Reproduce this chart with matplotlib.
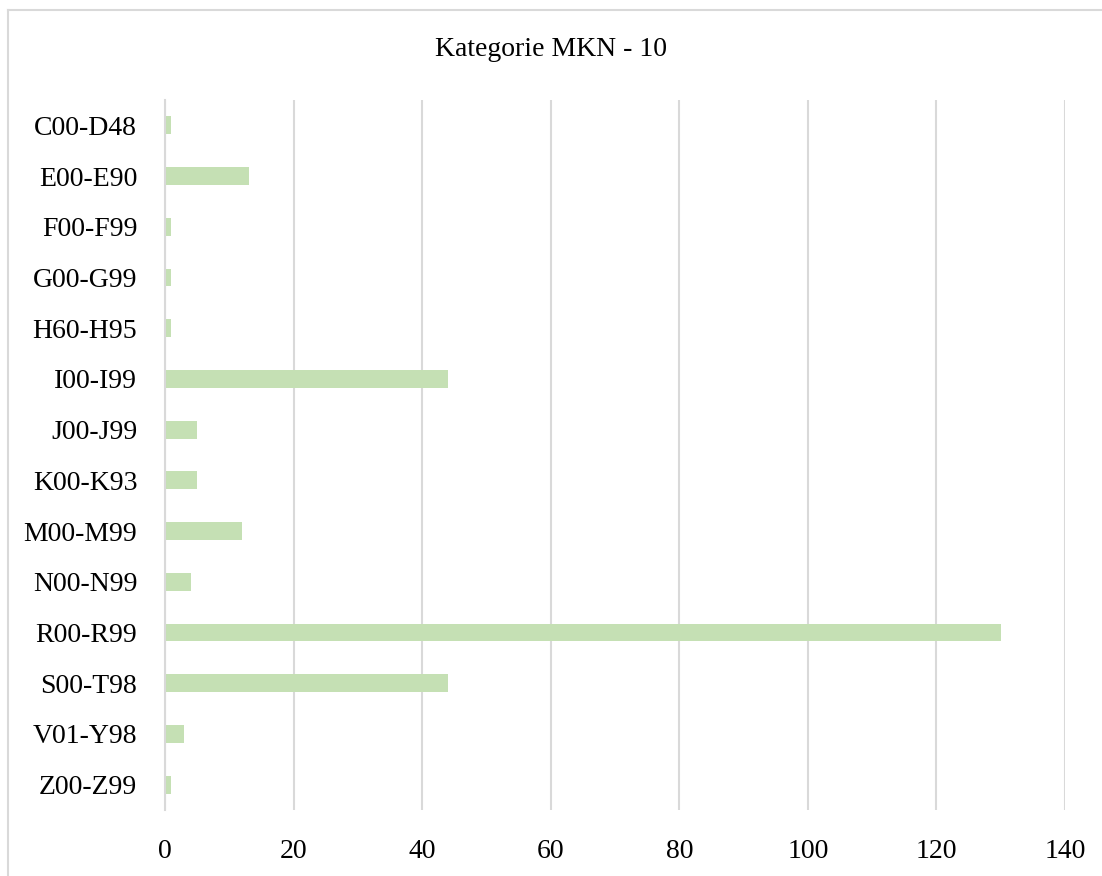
import matplotlib
matplotlib.use("Agg")
import matplotlib.pyplot as plt
from matplotlib.lines import Line2D

categories = ["C00-D48", "E00-E90", "F00-F99", "G00-G99", "H60-H95", "I00-I99",
              "J00-J99", "K00-K93", "M00-M99", "N00-N99", "R00-R99", "S00-T98",
              "V01-Y98", "Z00-Z99"]
values = [1, 13, 1, 1, 1, 44, 5, 5, 12, 4, 130, 44, 3, 1]
xticks = [0, 20, 40, 60, 80, 100, 120, 140]

plt.rcParams['font.family'] = ['Liberation Serif', 'DejaVu Serif']

fig = plt.figure(figsize=(11.02, 8.76), dpi=100)
ax = fig.add_axes([165 / 1102, 1 - 810 / 876, 900 / 1102, 710 / 876])

ypos = list(range(len(categories)))
ax.barh(ypos, values, height=0.35, color="#C5E0B4", zorder=2)

ax.set_ylim(len(categories) - 0.5, -0.5)
ax.set_xlim(0, 140)
ax.set_xticks(xticks)
ax.set_xticklabels([str(t) for t in xticks], fontsize=20)
ax.set_yticks(ypos)
ax.set_yticklabels(categories, fontsize=20)
ax.tick_params(axis='both', length=0, colors='black')
ax.tick_params(axis='x', pad=21)
ax.tick_params(axis='y', pad=20)

ax.grid(axis='x', color="#D9D9D9", linewidth=1.5, zorder=0)
for s in ["top", "right", "bottom"]:
    ax.spines[s].set_visible(False)
ax.spines["left"].set_color("#D9D9D9")
ax.spines["left"].set_linewidth(1.5)

fig.text(0.5 + 0 / 1102, 1 - 50 / 876, "Kategorie MKN - 10", ha='center', va='center', fontsize=20)

# outer chart frame
x0 = 8 / 1102
y0 = 1 - 10 / 876
fig.add_artist(Line2D([x0, x0], [y0, -0.01], transform=fig.transFigure,
                      color="#D9D9D9", linewidth=1.5))
fig.add_artist(Line2D([x0, 1.01], [y0, y0], transform=fig.transFigure,
                      color="#D9D9D9", linewidth=1.5))

fig.savefig("out.png", dpi=100)
